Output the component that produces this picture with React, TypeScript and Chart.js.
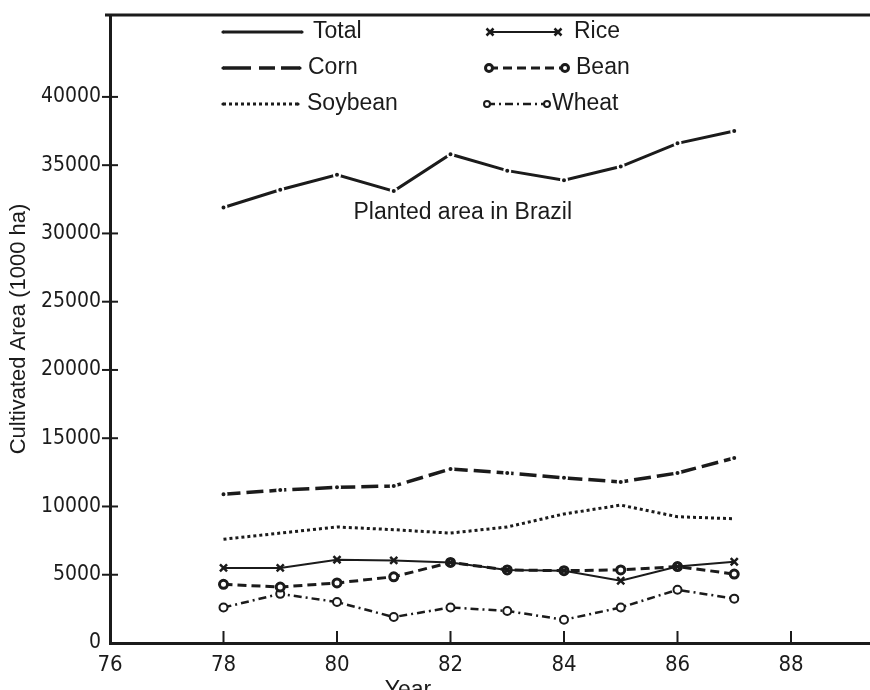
import React, { useEffect, useRef } from 'react';
import { Chart, registerables } from 'chart.js';

Chart.register(...registerables);

const INK = '#1b1b1b';

const years = [78, 79, 80, 81, 82, 83, 84, 85, 86, 87];
const totalArea = [31900, 33200, 34300, 33100, 35800, 34600, 33900, 34900, 36600, 37500];
const cornArea = [10900, 11200, 11400, 11500, 12750, 12450, 12100, 11800, 12450, 13550];
const soybeanArea = [7600, 8050, 8500, 8300, 8050, 8500, 9450, 10100, 9250, 9100];
const riceArea = [5500, 5500, 6100, 6050, 5900, 5350, 5300, 4560, 5600, 5950];
const beanArea = [4300, 4100, 4400, 4850, 5900, 5350, 5300, 5350, 5600, 5050];
const wheatArea = [2600, 3600, 3000, 1900, 2600, 2350, 1700, 2600, 3900, 3250];

const xTicks = [76, 78, 80, 82, 84, 86, 88];
const yTicks = [0, 5000, 10000, 15000, 20000, 25000, 30000, 35000, 40000];

const yTitle = 'Cultivated Area (1000 ha)';
const xTitle = 'Year';
const annotationText = 'Planted area in Brazil';
const annotationAt = { x: 80.29, y: 31500 };
const xTitleAt = 81.25;

const seriesNames = ['Total', 'Corn', 'Soybean', 'Rice', 'Bean', 'Wheat'];

const TICK_FONT = "'DejaVu Sans Condensed', 'Liberation Sans Narrow', sans-serif";
const TEXT_FONT = "'Liberation Sans', Arial, Helvetica, sans-serif";

const toPoints = (vals: number[]) => years.map((yr, i) => ({ x: yr, y: vals[i] }));

// legend layout: [dataset index, line start, line end, text x, row y]
const legendLayout = [
  [0, 223, 302, 313, 32],
  [1, 223, 300, 308, 68],
  [2, 223, 298, 307, 104],
  [3, 490, 558, 574, 32],
  [4, 489, 565, 576, 68],
  [5, 487, 547, 552, 104],
];

function drawMarker(ctx: CanvasRenderingContext2D, ds: any, x: number, y: number) {
  const r = ds.legendRadius;
  ctx.save();
  ctx.setLineDash([]);
  ctx.strokeStyle = INK;
  if (ds.pointStyle === 'crossRot') {
    ctx.lineWidth = ds.pointBorderWidth;
    ctx.beginPath();
    ctx.moveTo(x - r, y - r);
    ctx.lineTo(x + r, y + r);
    ctx.moveTo(x - r, y + r);
    ctx.lineTo(x + r, y - r);
    ctx.stroke();
  } else if (ds.legendOpen) {
    ctx.lineWidth = ds.pointBorderWidth;
    ctx.fillStyle = '#fff';
    ctx.beginPath();
    ctx.arc(x, y, r, 0, Math.PI * 2);
    ctx.fill();
    ctx.stroke();
  } else {
    ctx.fillStyle = INK;
    ctx.beginPath();
    ctx.arc(x, y, r, 0, Math.PI * 2);
    ctx.fill();
  }
  ctx.restore();
}

const decorPlugin = {
  id: 'decor',
  afterDraw(chart: any) {
    const { ctx, chartArea, scales } = chart;
    const xs = scales.x;
    const ys = scales.y;
    ctx.save();
    ctx.strokeStyle = INK;
    ctx.fillStyle = INK;
    ctx.lineCap = 'butt';
    ctx.lineWidth = 3;
    // top frame line
    ctx.beginPath();
    ctx.moveTo(chartArea.left - 5, chartArea.top);
    ctx.lineTo(chart.width, chartArea.top);
    ctx.stroke();
    // bottom axis continues to the page edge
    ctx.beginPath();
    ctx.moveTo(chartArea.right - 2, chartArea.bottom + 0.5);
    ctx.lineTo(chart.width, chartArea.bottom + 0.5);
    ctx.stroke();
    // x tick marks (inside)
    ctx.lineWidth = 2;
    xTicks.forEach((v) => {
      if (v === xTicks[0]) return;
      const px = xs.getPixelForValue(v);
      ctx.beginPath();
      ctx.moveTo(px, chartArea.bottom);
      ctx.lineTo(px, chartArea.bottom - 12);
      ctx.stroke();
    });
    // y tick marks (crossing)
    yTicks.forEach((v) => {
      if (v === 0) return;
      const py = ys.getPixelForValue(v);
      ctx.beginPath();
      ctx.moveTo(chartArea.left - 8, py);
      ctx.lineTo(chartArea.left + 8, py);
      ctx.stroke();
    });
    // annotation
    ctx.font = `23px ${TEXT_FONT}`;
    ctx.textAlign = 'left';
    ctx.textBaseline = 'middle';
    ctx.fillText(annotationText, xs.getPixelForValue(annotationAt.x), ys.getPixelForValue(annotationAt.y));
    // x title (cut at bottom edge like the original)
    ctx.textAlign = 'center';
    ctx.textBaseline = 'alphabetic';
    ctx.fillText(xTitle, xs.getPixelForValue(xTitleAt), chart.height + 7);
    // legend
    legendLayout.forEach(([di, x1, x2, tx, ly]) => {
      const ds = chart.data.datasets[di];
      ctx.save();
      ctx.strokeStyle = INK;
      ctx.lineWidth = ds.borderWidth;
      ctx.setLineDash(ds.legendDash || ds.borderDash || []);
      ctx.beginPath();
      ctx.moveTo(x1, ly);
      ctx.lineTo(x2, ly);
      ctx.stroke();
      ctx.restore();
      drawMarker(ctx, ds, x1, ly);
      drawMarker(ctx, ds, x2, ly);
      ctx.fillStyle = INK;
      ctx.font = `23px ${TEXT_FONT}`;
      ctx.textAlign = 'left';
      ctx.textBaseline = 'middle';
      ctx.fillText(seriesNames[di], tx, ly);
    });
    ctx.restore();
  },
};

export default function App() {
  const ref = useRef<HTMLCanvasElement | null>(null);

  useEffect(() => {
    if (!ref.current) return;
    const chart = new Chart(ref.current, {
      type: 'line',
      data: {
        datasets: [
          {
            label: seriesNames[0],
            data: toPoints(totalArea),
            borderColor: INK,
            borderWidth: 3,
            pointRadius: 3,
            pointBackgroundColor: INK,
            pointBorderColor: '#fff',
            pointBorderWidth: 2,
            pointStyle: 'circle',
            legendRadius: 1.6,
          } as any,
          {
            label: seriesNames[1],
            data: toPoints(cornArea),
            borderColor: INK,
            borderWidth: 3.5,
            borderDash: [17, 6],
            legendDash: [28, 8, 16, 6],
            pointRadius: 3,
            pointBackgroundColor: INK,
            pointBorderColor: '#fff',
            pointBorderWidth: 2,
            pointStyle: 'circle',
            legendRadius: 1.6,
          } as any,
          {
            label: seriesNames[2],
            data: toPoints(soybeanArea),
            borderColor: INK,
            borderWidth: 3,
            borderDash: [3, 3],
            pointRadius: 0,
            pointStyle: 'circle',
            legendRadius: 1.6,
          } as any,
          {
            label: seriesNames[3],
            data: toPoints(riceArea),
            borderColor: INK,
            borderWidth: 2,
            pointRadius: 5,
            pointStyle: 'crossRot',
            pointBorderColor: INK,
            pointBackgroundColor: INK,
            pointBorderWidth: 2.5,
            legendRadius: 3.5,
          } as any,
          {
            label: seriesNames[4],
            data: toPoints(beanArea),
            borderColor: INK,
            borderWidth: 3,
            borderDash: [9, 5],
            pointRadius: 4,
            pointStyle: 'circle',
            pointBorderColor: INK,
            pointBackgroundColor: '#fff',
            pointBorderWidth: 3,
            legendRadius: 3.5,
            legendOpen: true,
          } as any,
          {
            label: seriesNames[5],
            data: toPoints(wheatArea),
            borderColor: INK,
            borderWidth: 2.5,
            borderDash: [8, 4, 2, 4],
            pointRadius: 4,
            pointStyle: 'circle',
            pointBorderColor: INK,
            pointBackgroundColor: '#fff',
            pointBorderWidth: 2,
            legendRadius: 3,
            legendOpen: true,
          } as any,
        ],
      },
      options: {
        animation: false,
        responsive: false,
        devicePixelRatio: 1,
        layout: { padding: { top: 15, left: 0, right: 0, bottom: 0 } },
        plugins: {
          legend: { display: false },
          tooltip: { enabled: false },
        },
        scales: {
          x: {
            type: 'linear',
            min: 76,
            max: 89.26,
            afterBuildTicks: (s: any) => {
              s.ticks = xTicks.map((v) => ({ value: v }));
            },
            afterFit: (s: any) => {
              s.height = 47;
              s.paddingLeft = 0;
              s.paddingRight = 0;
            },
            grid: { display: false, drawTicks: false },
            border: { display: true, width: 3, color: INK },
            ticks: {
              padding: 9,
              color: INK,
              font: { family: TICK_FONT, size: 22 },
              callback: (v: any) => String(v),
            },
          },
          y: {
            type: 'linear',
            min: 0,
            max: 46000,
            afterBuildTicks: (s: any) => {
              s.ticks = yTicks.map((v) => ({ value: v }));
            },
            afterFit: (s: any) => {
              s.width = 110;
              s.paddingTop = 0;
              s.paddingBottom = 0;
            },
            grid: { display: false, drawTicks: false },
            border: { display: true, width: 3, color: INK },
            ticks: {
              padding: 9,
              color: INK,
              font: { family: TICK_FONT, size: 21 },
              callback: (v: any) => String(v),
            },
            title: {
              display: true,
              text: yTitle,
              color: INK,
              font: { family: TEXT_FONT, size: 22 },
              padding: { top: 6, bottom: 0 },
            },
          },
        },
      } as any,
      plugins: [decorPlugin],
    });
    return () => chart.destroy();
  }, []);

  return (
    <div style={{ position: 'fixed', left: 0, top: 0, width: 870, height: 690, background: '#fff', overflow: 'hidden' }}>
      <canvas ref={ref} width={870} height={690} style={{ display: 'block' }} />
    </div>
  );
}
